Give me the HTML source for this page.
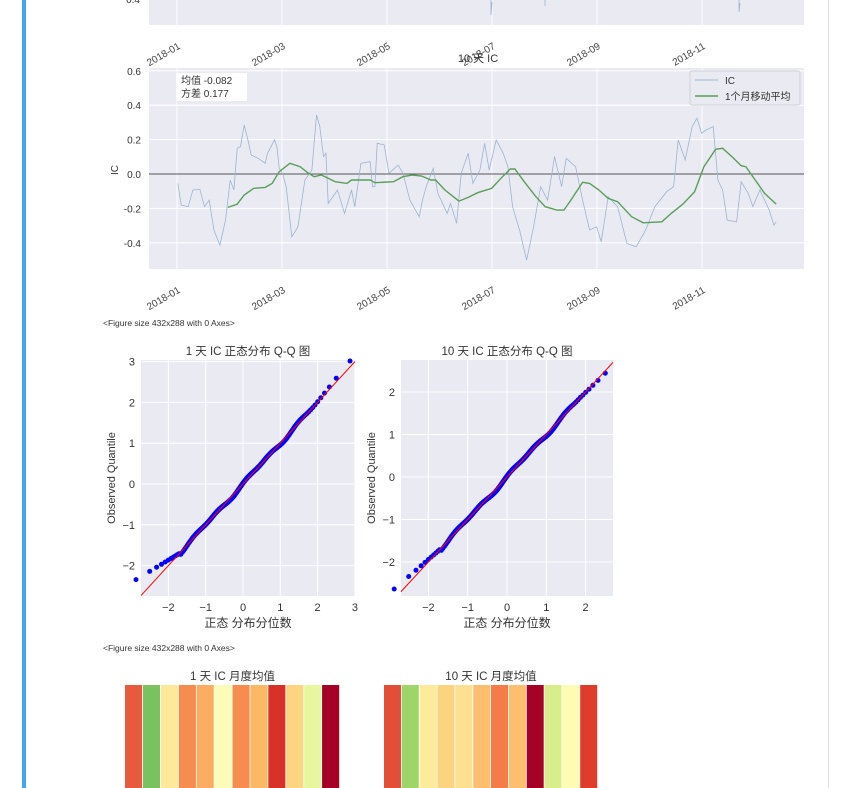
<!DOCTYPE html>
<html><head><meta charset="utf-8">
<style>
html,body{margin:0;padding:0;background:#fff;width:850px;height:788px;overflow:hidden;}
svg{display:block;}
text{font-family:"Liberation Sans","WenQuanYi Zen Hei","Noto Sans CJK SC",sans-serif;}
</style></head>
<body>
<svg id="s" width="850" height="788" xmlns="http://www.w3.org/2000/svg">
<rect x="22" y="0" width="4" height="788" fill="#42a5f5"/>
<rect x="828" y="0" width="1" height="788" fill="#ddd"/>
<g id="g"></g>
</svg>
<script>
const G=document.getElementById('g');let h='';
function T(x,y,s,sz,opt){opt=opt||{};h+=`<text x="${x}" y="${y}" font-size="${sz}" fill="${opt.c||'#333'}" text-anchor="${opt.a||'middle'}" ${opt.tr?`transform="${opt.tr}"`:''}>${s}</text>`;}
h+=`<rect x="149" y="0" width="655" height="25" fill="#eaeaf2"/>`;
const gx=[177,282,387,492,597,702];
gx.forEach(x=>h+=`<line x1="${x}" y1="0" x2="${x}" y2="25" stroke="#fff"/>`);
T(140,3,"0.4",10,{a:'end'});
h+=`<polyline points="491,0 491,15 492,2" fill="none" stroke="#9ab5d3" stroke-width="0.8"/><polyline points="545,0 545,6" fill="none" stroke="#9ab5d3" stroke-width="0.8"/><polyline points="739,0 739,12 740,3" fill="none" stroke="#9ab5d3" stroke-width="0.8"/>`;
const lab=["2018-01","2018-03","2018-05","2018-07","2018-09","2018-11"];
function xt(y){gx.forEach((x,i)=>T(x+4,y,lab[i],10,{a:'end',c:'#444',tr:`rotate(-30 ${x+4} ${y})`}));}
xt(48);
const L=149,R=804,Tp=68,B=269;
h+=`<rect x="${L}" y="${Tp}" width="${R-L}" height="${B-Tp}" fill="#eaeaf2"/>`;
const yv=v=>174-v*172;
[0.6,0.4,0.2,0,-0.2,-0.4].forEach(v=>{h+=`<line x1="${L}" y1="${yv(v)}" x2="${R}" y2="${yv(v)}" stroke="#fff"/>`;T(141,yv(v)+4,v.toFixed(1),10,{a:'end'});});
gx.forEach(x=>h+=`<line x1="${x}" y1="${Tp}" x2="${x}" y2="${B}" stroke="#fff"/>`);
h+=`<line x1="${L}" y1="174" x2="${R}" y2="174" stroke="#555" stroke-width="1"/>`;
T(478,62,"10 天 IC",11);
T(118,170,"IC",10,{tr:'rotate(-90 118 170)'});
const zx=z=>177+(z-186)*0.4667, zy=z=>yv((522-z)/515);
const raw=[[188,550],[195,615],[210,620],[220,570],[235,568],[245,620],[255,600],[265,690],[278,735],[290,660],[300,540],[308,570],[315,445],[322,440],[330,375],[338,420],[345,465],[360,475],[375,490],[380,460],[395,420],[400,440],[405,505],[412,520],[420,560],[432,710],[445,680],[460,540],[475,510],[485,345],[492,380],[500,470],[505,460],[510,610],[530,570],[545,640],[560,570],[567,620],[580,490],[600,485],[605,560],[610,560],[615,430],[630,435],[640,520],[660,495],[670,520],[685,600],[705,650],[712,600],[720,560],[735,505],[745,580],[765,640],[772,610],[785,670],[795,520],[810,460],[820,550],[835,510],[845,430],[855,510],[870,420],[885,460],[895,500],[905,620],[920,690],[935,780],[950,680],[965,560],[980,600],[995,470],[1010,560],[1020,475],[1040,500],[1055,600],[1070,690],[1085,680],[1095,725],[1110,590],[1130,620],[1150,730],[1170,740],[1190,690],[1210,620],[1235,575],[1250,560],[1260,420],[1275,480],[1290,380],[1300,355],[1310,400],[1320,390],[1335,380],[1345,540],[1355,570],[1365,660],[1385,665],[1395,545],[1410,580],[1420,620],[1435,570],[1455,630],[1465,675],[1470,665]];
h+=`<polyline points="${raw.map(p=>zx(p[0]).toFixed(1)+','+zy(p[1]).toFixed(1)).join(' ')}" fill="none" stroke="#9ab5d3" stroke-width="0.8"/>`;
const ma=[[295,622],[315,612],[330,585],[350,565],[375,562],[390,550],[405,515],[428,490],[450,500],[465,517],[480,530],[495,525],[510,535],[525,545],[550,550],[560,540],[600,540],[610,548],[650,545],[670,530],[690,525],[710,528],[730,540],[740,540],[760,570],[790,603],[810,592],[830,578],[860,565],[880,535],[900,507],[910,507],[930,545],[955,590],[975,620],[1000,630],[1015,630],[1030,600],[1055,547],[1070,550],[1090,570],[1110,595],[1130,605],[1160,650],[1185,668],[1225,665],[1245,640],[1270,612],[1295,575],[1315,500],[1340,448],[1355,445],[1375,470],[1395,497],[1405,500],[1425,540],[1445,580],[1470,612]];
h+=`<polyline points="${ma.map(p=>zx(p[0]).toFixed(1)+','+zy(p[1]).toFixed(1)).join(' ')}" fill="none" stroke="#5a9e5a" stroke-width="1.4"/>`;
h+=`<rect x="176" y="73" width="71" height="28" fill="#fff"/>`;
T(181,84,"均值 -0.082",10,{a:'start'});T(181,97,"方差 0.177",10,{a:'start'});
h+=`<rect x="690" y="71" width="110" height="34" fill="#eaeaf2" stroke="#d0d0d8" rx="2"/>`;
h+=`<line x1="695" y1="80" x2="718" y2="80" stroke="#9ab5d3"/><line x1="695" y1="96" x2="718" y2="96" stroke="#5a9e5a" stroke-width="1.4"/>`;
T(725,84,"IC",10,{a:'start'});T(725,100,"1个月移动平均",10,{a:'start'});
xt(292);
h+=`<text x="103" y="326" font-size="8.5" fill="#333" font-family="Liberation Serif,serif">&lt;Figure size 432x288 with 0 Axes&gt;</text>`;
h+=`<text x="103" y="651" font-size="8.5" fill="#333" font-family="Liberation Serif,serif">&lt;Figure size 432x288 with 0 Axes&gt;</text>`;
function invn(p){const a=[-39.6968302866538,220.946098424521,-275.928510446969,138.357751867269,-30.6647980661472,2.50662827745924],b=[-54.4760987982241,161.585836858041,-155.698979859887,66.8013118877197,-13.2806815528857],c=[-7.78489400243029e-3,-0.322396458041136,-2.40075827716184,-2.54973253934373,4.37466414146317,2.93816398269878],d=[7.78469570904146e-3,0.32246712100107,2.445134137143,3.75440866190742];let q,r;if(p<0.02425){q=Math.sqrt(-2*Math.log(p));return(((((c[0]*q+c[1])*q+c[2])*q+c[3])*q+c[4])*q+c[5])/((((d[0]*q+d[1])*q+d[2])*q+d[3])*q+1);}if(p>1-0.02425){q=Math.sqrt(-2*Math.log(1-p));return-(((((c[0]*q+c[1])*q+c[2])*q+c[3])*q+c[4])*q+c[5])/((((d[0]*q+d[1])*q+d[2])*q+d[3])*q+1);}q=p-0.5;r=q*q;return(((((a[0]*r+a[1])*r+a[2])*r+a[3])*r+a[4])*r+a[5])*q/(((((b[0]*r+b[1])*r+b[2])*r+b[3])*r+b[4])*r+1);}
function qq(o){const {L,R,Tp,B,x0,xs,y0,ys,xt,yt,title,cx,tail}=o;
h+=`<rect x="${L}" y="${Tp}" width="${R-L}" height="${B-Tp}" fill="#eaeaf2"/>`;
xt.forEach(v=>{const x=x0+v*xs;h+=`<line x1="${x}" y1="${Tp}" x2="${x}" y2="${B}" stroke="#fff"/>`;T(x,B+15,v<0?'−'+(-v):v,11);});
yt.forEach(v=>{const y=y0-v*ys;h+=`<line x1="${L}" y1="${y}" x2="${R}" y2="${y}" stroke="#fff"/>`;T(L-6,y+4,v<0?'−'+(-v):v,11,{a:'end'});});
const n=243;let pts='';
for(let i=0;i<n;i++){const t=invn((i+0.5)/n);let v=t+0.03*Math.sin(t*4.5)+0.025*Math.sin(t*9+1);
if(t<-1.7)v=t+tail[0]*(-1.7-t);
if(t>1.9)v=t+tail[1]*(t-1.9);
const x=x0+t*xs,y=y0-v*ys;if(y<Tp-3||x>R+2)continue;pts+=`<circle cx="${x.toFixed(1)}" cy="${y.toFixed(1)}" r="2.5" fill="#0000ff"/>`;}
h+=pts;
h+=`<line x1="${L}" y1="${y0-((L-x0)/xs)*ys}" x2="${R}" y2="${y0-((R-x0)/xs)*ys}" stroke="red" stroke-width="1"/>`;
T(cx,355,title,11.5);T(cx,627,"正态 分布分位数",12);
T(L-26,(Tp+B)/2,"Observed Quantile",11,{tr:`rotate(-90 ${L-26} ${(Tp+B)/2})`});}
qq({L:141,R:355,Tp:360,B:596,x0:243,xs:37.3,y0:484,ys:40.8,xt:[-2,-1,0,1,2,3],yt:[3,2,1,0,-1,-2],title:"1 天 IC 正态分布 Q-Q 图",cx:248,tail:[0.45,0.15]});
qq({L:401,R:613,Tp:360,B:596,x0:507,xs:39.3,y0:477,ys:42.5,xt:[-2,-1,0,1,2],yt:[2,1,0,-1,-2],title:"10 天 IC 正态分布 Q-Q 图",cx:507,tail:[0.2,-0.1]});
function hm(x0,w,cols,title){T(x0+w/2,680,title,11.5);const cw=w/12;cols.forEach((c,i)=>h+=`<rect x="${(x0+i*cw).toFixed(1)}" y="685" width="${(cw-0.8).toFixed(1)}" height="103" fill="#${c}"/>`);}
hm(125,215,["e85a3d","78c35f","fee89a","f68c4f","fbad62","fbfcb8","f68c4f","fdb866","d83128","fdd480","e9f6a0","a50026"],"1 天 IC 月度均值");
hm(384,214,["e34e36","9dd569","feea9b","fdd380","fee090","fdbf6f","f57c4a","fdbf6f","a50026","d7ee8a","fefbb5","e03c2c"],"10 天 IC 月度均值");
G.innerHTML=h;
</script>
</body></html>
